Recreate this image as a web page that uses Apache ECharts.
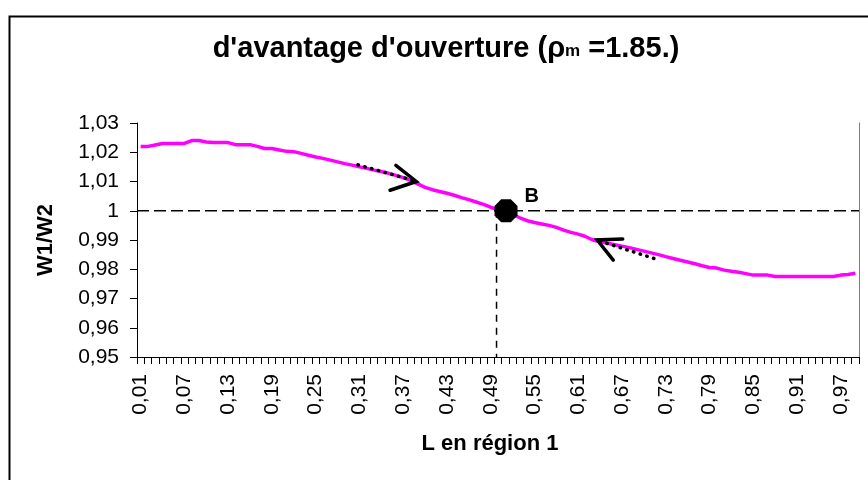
<!DOCTYPE html>
<html>
<head>
<meta charset="utf-8">
<script src="https://cdn.jsdelivr.net/npm/echarts@6/dist/echarts.min.js"></script>
<style>html,body{margin:0;padding:0;background:#fff;}#c{width:868px;height:480px;}</style>
</head>
<body>
<div id="c"></div>
<script>
// Categories (L en région 1)
const categories = ['0,01','0,02','0,03','0,04','0,05','0,06','0,07','0,08','0,09','0,10',
 '0,11','0,12','0,13','0,14','0,15','0,16','0,17','0,18','0,19','0,20',
 '0,21','0,22','0,23','0,24','0,25','0,26','0,27','0,28','0,29','0,30',
 '0,31','0,32','0,33','0,34','0,35','0,36','0,37','0,38','0,39','0,40',
 '0,41','0,42','0,43','0,44','0,45','0,46','0,47','0,48','0,49','0,50',
 '0,51','0,52','0,53','0,54','0,55','0,56','0,57','0,58','0,59','0,60',
 '0,61','0,62','0,63','0,64','0,65','0,66','0,67','0,68','0,69','0,70',
 '0,71','0,72','0,73','0,74','0,75','0,76','0,77','0,78','0,79','0,80',
 '0,81','0,82','0,83','0,84','0,85','0,86','0,87','0,88','0,89','0,90',
 '0,91','0,92','0,93','0,94','0,95','0,96','0,97','0,98','0,99'];

// W1/W2 values
const ratioW1W2 = [1.0220,1.0220,1.0225,1.0230,1.0230,1.0230,1.0230,1.0240,1.0240,1.0235,
 1.0233,1.0233,1.0233,1.0226,1.0226,1.0226,1.0220,1.0213,1.0213,1.0208,
 1.0203,1.0202,1.0196,1.0190,1.0184,1.0179,1.0173,1.0167,1.0161,1.0156,
 1.0150,1.0145,1.0139,1.0134,1.0128,1.0121,1.0113,1.0104,1.0092,1.0080,
 1.0072,1.0066,1.0060,1.0053,1.0045,1.0038,1.0030,1.0022,1.0012,1.0004,
 0.9997,0.9987,0.9976,0.9966,0.9960,0.9955,0.9950,0.9943,0.9934,0.9926,
 0.9920,0.9912,0.9900,0.9894,0.9889,0.9884,0.9879,0.9874,0.9868,0.9862,
 0.9856,0.9850,0.9843,0.9837,0.9831,0.9825,0.9819,0.9812,0.9806,0.9804,
 0.9797,0.9793,0.9790,0.9785,0.9780,0.9780,0.9780,0.9775,0.9775,0.9775,
 0.9775,0.9775,0.9775,0.9775,0.9775,0.9775,0.9780,0.9782,0.9786];

// Y axis range
const yMin = 0.95, yMax = 1.03, yStep = 0.01;

// Annotations in data units [L, W1/W2]
const arrowRight = [[0.360,1.0155],[0.388,1.0100],[0.352,1.0070]];
const dotsRight  = [[0.308,1.0157],[0.386,1.0102]];
const arrowLeft  = [[0.671,0.9903],[0.636,0.9900],[0.658,0.9831]];
const dotsLeft   = [[0.640,0.9896],[0.715,0.9836]];
const pointB     = [[0.511,1.0]];
const refLineH   = [[0.005,1.0],[0.995,1.0]];
const refLineV   = [[0.498,1.0],[0.498,0.95]];

const FONT = "'Liberation Sans', Arial, sans-serif";
const chart = echarts.init(document.getElementById('c'), null, {renderer:'canvas'});

function fmtY(v){
  if (Math.abs(v-1) < 1e-9) return '1';
  return v.toFixed(2).replace('.', ',');
}

const plain = (data, z, style) => ({
  type:'line', xAxisIndex:1, yAxisIndex:0, data, symbol:'none', silent:true,
  animation:false, z, lineStyle:style
});

chart.setOption({
  animation:false,
  backgroundColor:'#fff',
  title:{
    text:"{a|d'avantage d'ouverture (ρ}{b|m}{a| =1.85.)}",
    left:446, top:34, textAlign:'center', padding:0,
    textStyle:{
      rich:{
        a:{fontFamily:FONT, fontSize:29, fontWeight:'bold', color:'#000'},
        b:{fontFamily:FONT, fontSize:17, fontWeight:'bold', color:'#000', verticalAlign:'bottom', padding:[0,0,3,0]}
      }
    }
  },
  graphic:[{
    type:'rect', left:7, top:14, silent:true,
    shape:{width:900, height:520},
    style:{fill:'none', stroke:'#000', lineWidth:2}
  }],
  grid:{left:137, right:9, top:123, bottom:123, containLabel:false, outerBoundsMode:'none'},
  xAxis:[{
    type:'category', data:categories, boundaryGap:true,
    name:'L en région 1', nameLocation:'middle', nameGap:76,
    nameTextStyle:{fontFamily:FONT, fontSize:22, fontWeight:'bold', color:'#000', padding:[0,16,0,0]},
    axisLine:{lineStyle:{color:'#000', width:1}},
    axisTick:{show:true, interval:0, length:7, lineStyle:{color:'#000', width:1}},
    axisLabel:{interval:5, rotate:90, margin:17, fontFamily:FONT, fontSize:21, color:'#000'},
    splitLine:{show:false}
  },{
    type:'value', min:0.005, max:0.995, show:false
  }],
  yAxis:[{
    type:'value', min:yMin, max:yMax, interval:yStep,
    name:'W1/W2', nameLocation:'middle', nameGap:80, nameRotate:90,
    nameTextStyle:{fontFamily:FONT, fontSize:22, fontWeight:'bold', color:'#000'},
    axisLine:{show:true, lineStyle:{color:'#000', width:1}},
    axisTick:{show:true, length:7, lineStyle:{color:'#000'}},
    axisLabel:{formatter:fmtY, margin:18, fontFamily:FONT, fontSize:21, color:'#000'},
    splitLine:{show:false}
  },{
    type:'value', min:yMin, max:yMax, interval:yStep, position:'right',
    axisLine:{show:true, lineStyle:{color:'#808080', width:1}},
    axisTick:{show:false}, axisLabel:{show:false}, splitLine:{show:false}
  }],
  series:[
    plain(refLineH, 1, {color:'#000', width:1.5, type:[12,5]}),
    plain(refLineV, 1, {color:'#000', width:1.5, type:[7,6]}),
    {
      type:'line', xAxisIndex:0, yAxisIndex:0, data:ratioW1W2, symbol:'none',
      silent:true, animation:false, z:2,
      lineStyle:{color:'#FF00FF', width:3.5}
    },
    plain(dotsRight, 3, {color:'#000', width:3.5, type:[0.5,6.5], cap:'round'}),
    plain(dotsLeft, 3, {color:'#000', width:3.5, type:[0.5,6.5], cap:'round'}),
    plain(arrowRight, 4, {color:'#000', width:3.5, cap:'round', join:'miter'}),
    plain(arrowLeft, 4, {color:'#000', width:3.5, cap:'round', join:'miter'}),
    {
      type:'scatter', xAxisIndex:1, yAxisIndex:0, data:pointB, silent:true, animation:false, z:5,
      symbol:'path://M29,0 L71,0 L100,29 L100,71 L71,100 L29,100 L0,71 L0,29 Z',
      symbolSize:23, itemStyle:{color:'#000', opacity:1},
      label:{show:true, formatter:'B', position:[30,-13], fontFamily:FONT, fontSize:20, fontWeight:'bold', color:'#000', opacity:1}
    }
  ]
});
</script>
</body>
</html>
